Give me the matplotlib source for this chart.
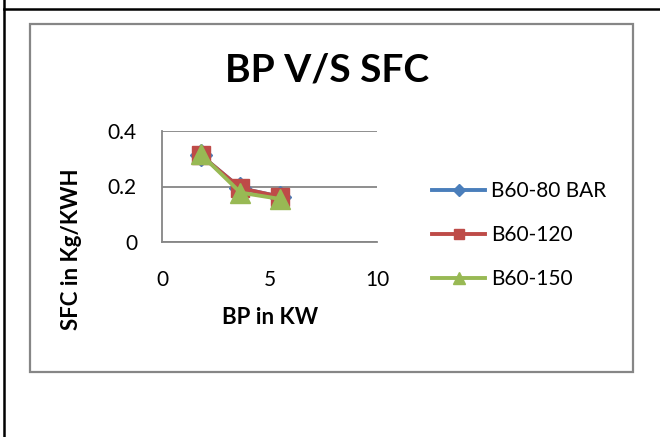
import matplotlib.pyplot as plt
from matplotlib.patches import Rectangle
from matplotlib.lines import Line2D

plt.rcParams['font.family'] = ['Lato', 'DejaVu Sans']

# data
bp = [1.8, 3.65, 5.5]
sfc_80 = [0.313, 0.194, 0.163]
sfc_120 = [0.313, 0.194, 0.163]
sfc_150 = [0.317, 0.178, 0.155]
series_names = ["B60-80 BAR", "B60-120", "B60-150"]
x_ticks = [0, 5, 10]
y_ticks = [0, 0.2, 0.4]
y_tick_labels = ["0", "0.2", "0.4"]

BLUE = "#4A7EBB"
RED = "#BE4B48"
GREEN = "#98B954"
GRID = "#868686"

W, H = 660, 437
fig = plt.figure(figsize=(6.6, 4.37), dpi=100)

# page borders (table lines) and chart frame
fig.add_artist(Line2D([4 / W, 4 / W], [0, 1], color="black", lw=1.8,
                      transform=fig.transFigure))
fig.add_artist(Line2D([4 / W, 1], [1 - 9 / H, 1 - 9 / H], color="black",
                      lw=1.8, transform=fig.transFigure))
fig.add_artist(Rectangle((30 / W, 1 - 372 / H), 603 / W, 348 / H,
                         transform=fig.transFigure, fill=False,
                         edgecolor=GRID, lw=1.6))

ax = fig.add_axes([162 / W, 1 - 242 / H, 215 / W, 111 / H])

ax.plot(bp, sfc_80, color=BLUE, lw=2.8, marker="D", ms=11, label=series_names[0])
ax.plot(bp, sfc_120, color=RED, lw=2.8, marker="s", ms=13, label=series_names[1])
ax.plot(bp, sfc_150, color=GREEN, lw=2.8, marker="^", ms=15, label=series_names[2])

ax.set_xlim(0, 10)
ax.set_ylim(0, 0.4)
ax.set_xticks(x_ticks)
ax.set_yticks(y_ticks)
ax.set_xticklabels([str(v) for v in x_ticks])
ax.set_yticklabels(y_tick_labels)
ax.tick_params(axis="both", length=0, labelsize=15)
ax.tick_params(axis="x", pad=20)
ax.tick_params(axis="y", pad=18)
ax.grid(True, axis="y", color=GRID, lw=1.3)
ax.set_axisbelow(True)
for side in ["top", "right"]:
    ax.spines[side].set_visible(False)
for side in ["left", "bottom"]:
    ax.spines[side].set_color(GRID)
    ax.spines[side].set_linewidth(1.3)

# axis titles and chart title
fig.text(270 / W, 1 - 318 / H, "BP in KW", fontsize=16, fontweight="bold",
         ha="center", va="center")
fig.text(72 / W, 1 - 249 / H, "SFC in Kg/KWH", rotation=90, fontsize=16,
         fontweight="bold", ha="center", va="center")
fig.text(327 / W, 1 - 70 / H, "BP V/S SFC", fontsize=28, fontweight="bold",
         ha="center", va="center")

ax.legend(loc="center left", bbox_to_anchor=(432 / W, 1 - 235 / H),
          bbox_transform=fig.transFigure, frameon=False, fontsize=15,
          borderpad=0, borderaxespad=0, handlelength=2.55, handletextpad=0.3,
          labelspacing=1.15, markerscale=0.6)

fig.savefig("out.png", dpi=100)
